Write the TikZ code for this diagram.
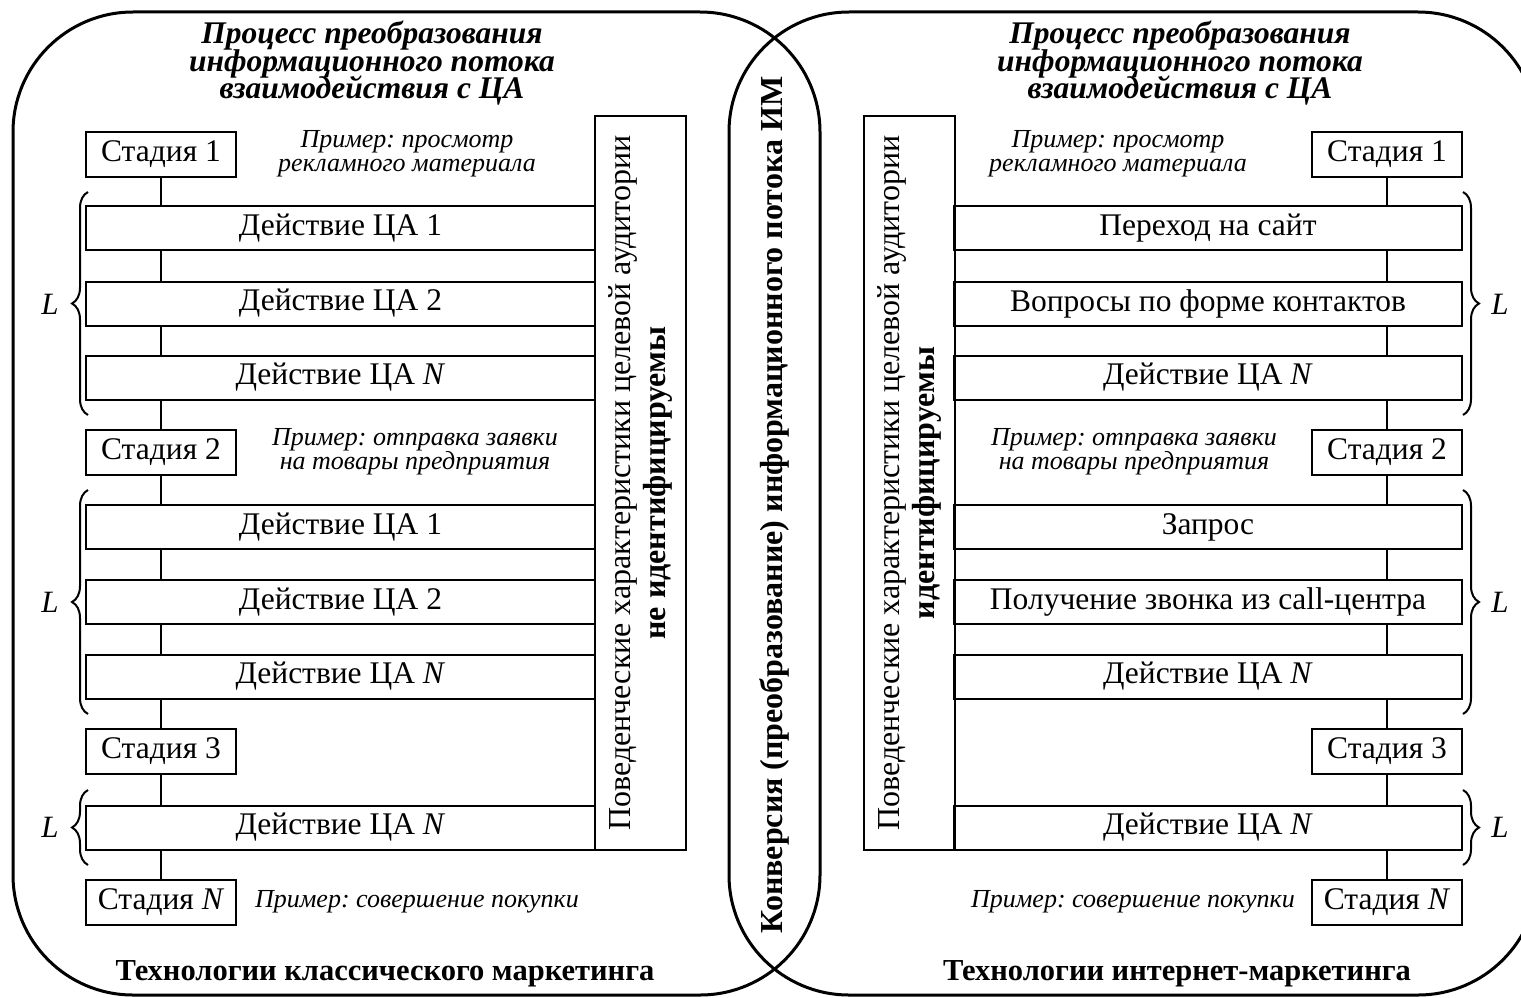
\documentclass[tikz,border=0pt]{standalone}
\usepackage{fontspec}
\setmainfont{Liberation Serif}
\usetikzlibrary{decorations.pathreplacing}
\frenchspacing
% let tightly leaded multi-line labels keep their set baseline distance
\AtBeginDocument{\setlength{\lineskiplimit}{-40pt}}

\begin{document}
\begin{tikzpicture}[x=1pt,y=-1pt,
  panel/.style={line width=3pt, rounded corners=120pt},
  box/.style={draw, line width=2pt, inner sep=0pt, font=\fontsize{31.5}{34}\selectfont},
  stagebox/.style={box, minimum width=150pt, minimum height=45pt},
  actbox/.style={box, minimum height=44pt},
  tallbox/.style={box, rotate=90, minimum width=734pt, minimum height=91pt,
    align=center, font=\fontsize{32}{35}\selectfont},
  link/.style={line width=2pt},
  grp/.style={line width=2pt, decorate, decoration={brace, amplitude=16pt}},
  example/.style={align=center, inner sep=0pt, font=\itshape\fontsize{26}{24}\selectfont},
  heading/.style={align=center, inner sep=0pt, font=\bfseries\itshape\fontsize{31.5}{27.5}\selectfont},
  footer/.style={inner sep=0pt, font=\bfseries\fontsize{30.5}{32}\selectfont},
  lmark/.style={inner sep=0pt, font=\itshape\fontsize{31}{34}\selectfont},
  middle/.style={inner sep=0pt, rotate=90, font=\bfseries\fontsize{32}{34}\selectfont}]

\useasboundingbox (0,0) rectangle (1521,998);

% two overlapping rounded panels
\begin{scope}
  \clip (0,0) rectangle (1521,998);
  \draw[panel] (13,12) rectangle (820,995);
  \draw[panel] (729,12) rectangle (1538,995);
\end{scope}

% ---------- left panel: classic marketing ----------
\node[heading] (lhead) at (372,63.5) {Процесс преобразования\\информационного потока\\взаимодействия с ЦА};

\node[stagebox] (ls1) at (161,154) {Стадия 1};
\node[actbox, minimum width=509pt] (la1) at (340.5,228) {Действие ЦА 1};
\node[actbox, minimum width=509pt] (la2) at (340.5,303.5) {Действие ЦА 2};
\node[actbox, minimum width=509pt] (la3) at (340.5,377.5) {Действие ЦА \textit{N}};
\node[stagebox] (ls2) at (161,452) {Стадия 2};
\node[actbox, minimum width=509pt] (lb1) at (340.5,527) {Действие ЦА 1};
\node[actbox, minimum width=509pt] (lb2) at (340.5,602) {Действие ЦА 2};
\node[actbox, minimum width=509pt] (lb3) at (340.5,676.5) {Действие ЦА \textit{N}};
\node[stagebox] (ls3) at (161,751.5) {Стадия 3};
\node[actbox, minimum width=509pt] (lc1) at (340.5,827.5) {Действие ЦА \textit{N}};
\node[stagebox] (lsn) at (161,902) {Стадия \textit{N}};

\foreach \u/\v in {ls1/la1, la1/la2, la2/la3, la3/ls2, ls2/lb1, lb1/lb2, lb2/lb3, lb3/ls3, ls3/lc1, lc1/lsn}
  \draw[link] (\u.south -| ls1) -- (\v.north -| ls1);

\node[example] (lex1) at (407,154) {Пример: просмотр\\рекламного материала};
\node[example] (lex2) at (415,452) {Пример: отправка заявки\\на товары предприятия};
\node[example] (lex3) at (417,902) {Пример: совершение покупки};

\draw[grp] (88,415) -- (88,192);
\draw[grp] (88,714) -- (88,490);
\draw[grp] (88,865) -- (88,790);
\node[lmark] (ll1) at (50,304) {L};
\node[lmark] (ll2) at (50,602) {L};
\node[lmark] (ll3) at (50,827) {L};

\node[tallbox] (ltall) at (640.5,483) {Поведенческие характеристики целевой аудитории\\\textbf{не идентифицируемы}};

\node[footer] (lfoot) at (385,974) {Технологии классического маркетинга};

% ---------- central band ----------
\node[middle] (conv) at (774,505) {Конверсия (преобразование) информационного потока ИМ};

% ---------- right panel: internet marketing ----------
\node[heading] (rhead) at (1180,63.5) {Процесс преобразования\\информационного потока\\взаимодействия с ЦА};

\node[stagebox] (rs1) at (1387,154) {Стадия 1};
\node[actbox, minimum width=508pt] (ra1) at (1208,228) {Переход на сайт};
\node[actbox, minimum width=508pt] (ra2) at (1208,303.5) {Вопросы по форме контактов};
\node[actbox, minimum width=508pt] (ra3) at (1208,377.5) {Действие ЦА \textit{N}};
\node[stagebox] (rs2) at (1387,452) {Стадия 2};
\node[actbox, minimum width=508pt] (rb1) at (1208,527) {Запрос};
\node[actbox, minimum width=508pt] (rb2) at (1208,602) {Получение звонка из call-центра};
\node[actbox, minimum width=508pt] (rb3) at (1208,676.5) {Действие ЦА \textit{N}};
\node[stagebox] (rs3) at (1387,751.5) {Стадия 3};
\node[actbox, minimum width=508pt] (rc1) at (1208,827.5) {Действие ЦА \textit{N}};
\node[stagebox] (rsn) at (1387,902) {Стадия \textit{N}};

\foreach \u/\v in {rs1/ra1, ra1/ra2, ra2/ra3, ra3/rs2, rs2/rb1, rb1/rb2, rb2/rb3, rb3/rs3, rs3/rc1, rc1/rsn}
  \draw[link] (\u.south -| rs1) -- (\v.north -| rs1);

\node[example] (rex1) at (1118,154) {Пример: просмотр\\рекламного материала};
\node[example] (rex2) at (1134,452) {Пример: отправка заявки\\на товары предприятия};
\node[example] (rex3) at (1133,902) {Пример: совершение покупки};

\draw[grp] (1463,192) -- (1463,415);
\draw[grp] (1463,490) -- (1463,714);
\draw[grp] (1463,790) -- (1463,865);
\node[lmark] (rl1) at (1500,304) {L};
\node[lmark] (rl2) at (1500,602) {L};
\node[lmark] (rl3) at (1500,827) {L};

\node[tallbox] (rtall) at (909,483) {Поведенческие характеристики целевой аудитории\\\textbf{идентифицируемы}};

\node[footer] (rfoot) at (1177,974) {Технологии интернет-маркетинга};
\end{tikzpicture}
\end{document}
